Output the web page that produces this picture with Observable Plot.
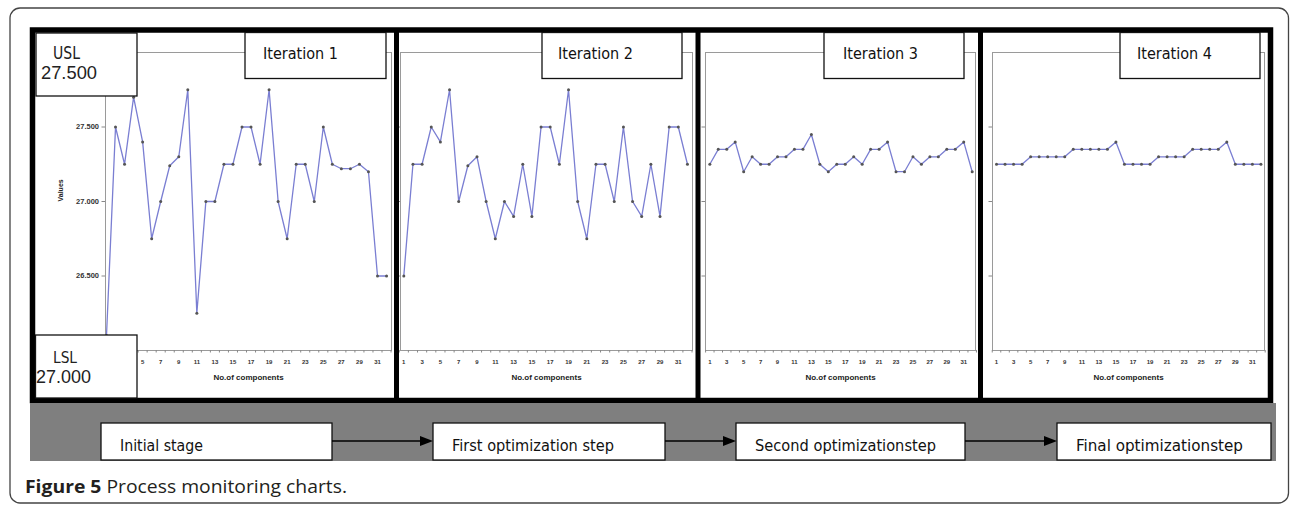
<!DOCTYPE html>
<html>
<head>
<meta charset="utf-8">
<script src="https://cdn.jsdelivr.net/npm/d3@7"></script>
<script src="https://cdn.jsdelivr.net/npm/@observablehq/plot@0.6"></script>
<style>
  body { margin: 0; background: #fff; }
  #root { position: relative; width: 1290px; height: 507px; overflow: hidden; background: #fff; }
  #root > svg, #root > figure { position: absolute; margin: 0; }
  .overlay { pointer-events: none; }
</style>
</head>
<body>
<div id="root"></div>
<script>
// ---------- data ----------
const components = [1,2,3,4,5,6,7,8,9,10,11,12,13,14,15,16,17,18,19,20,21,22,23,24,25,26,27,28,29,30,31,32];
const iteration1 = [26.1, 27.5, 27.25, 27.7, 27.4, 26.75, 27.0, 27.24, 27.3, 27.75, 26.25, 27.0, 27.0, 27.25, 27.25, 27.5,
                    27.5, 27.25, 27.75, 27.0, 26.75, 27.25, 27.25, 27.0, 27.5, 27.25, 27.22, 27.22, 27.25, 27.2, 26.5, 26.5];
const iteration2 = [26.5, 27.25, 27.25, 27.5, 27.4, 27.75, 27.0, 27.24, 27.3, 27.0, 26.75, 27.0, 26.9, 27.25, 26.9, 27.5,
                    27.5, 27.25, 27.75, 27.0, 26.75, 27.25, 27.25, 27.0, 27.5, 27.0, 26.9, 27.25, 26.9, 27.5, 27.5, 27.25];
const iteration3 = [27.25, 27.35, 27.35, 27.4, 27.2, 27.3, 27.25, 27.25, 27.3, 27.3, 27.35, 27.35, 27.45, 27.25, 27.2, 27.25,
                    27.25, 27.3, 27.25, 27.35, 27.35, 27.4, 27.2, 27.2, 27.3, 27.25, 27.3, 27.3, 27.35, 27.35, 27.4, 27.2];
const iteration4 = [27.25, 27.25, 27.25, 27.25, 27.3, 27.3, 27.3, 27.3, 27.3, 27.35, 27.35, 27.35, 27.35, 27.35, 27.4, 27.25,
                    27.25, 27.25, 27.25, 27.3, 27.3, 27.3, 27.3, 27.35, 27.35, 27.35, 27.35, 27.4, 27.25, 27.25, 27.25, 27.25];
const iterationTitles = ["Iteration 1", "Iteration 2", "Iteration 3", "Iteration 4"];
const stageLabels = ["Initial stage", "First optimization step", "Second optimizationstep", "Final optimizationstep"];
const xTickLabels = [1, 3, 5, 7, 9, 11, 13, 15, 17, 19, 21, 23, 25, 27, 29, 31];
const yTickValues = [26.5, 27.0, 27.5];
const yDomain = [26, 28];
const xAxisTitle = "No.of components";
const yAxisTitle = "Values";
const uslLabel = ["USL", "27.500"];
const lslLabel = ["LSL", "27.000"];
const captionBold = "Figure 5";
const captionText = " Process monitoring charts.";

// ---------- layout ----------
const series = [iteration1, iteration2, iteration3, iteration4];
const panels = [
  {left: 37,  width: 357, ml: 68, mr: 3, xd: [0.89, 32.55], yLabels: true},
  {left: 397, width: 297, ml: 3,  mr: 2, xd: [0.64, 32.55], yLabels: false},
  {left: 700, width: 280, ml: 5,  mr: 5, xd: [0.49, 32.39], yLabels: false},
  {left: 984, width: 284, ml: 8,  mr: 4, xd: [0.53, 32.42], yLabels: false}
];
const top0 = 40, H = 355, mt = 12, mb = 45;
const halfTicks = components.map(d => d - 0.5).concat([32.5]);
const root = document.getElementById("root");

panels.forEach((p, i) => {
  const data = components.map((c, j) => ({c, v: series[i][j]}));
  const marks = [
    Plot.frame({stroke: "#9a9a9a", strokeWidth: 1}),
    Plot.axisX({ticks: halfTicks, tickSize: 2.5, tickFormat: () => "", stroke: "#888", label: null}),
    Plot.axisX({ticks: xTickLabels, tickSize: 0, tickPadding: 9, fontSize: 6, fontWeight: "bold", fill: "#333", label: null}),
    Plot.axisY({ticks: yTickValues, tickSize: 3.5, tickPadding: 3, stroke: "#888",
                tickFormat: p.yLabels ? d3.format(".3f") : () => "", fontSize: 7.5, fontWeight: "bold", fill: "#333", label: null}),
    Plot.text([xAxisTitle], {frameAnchor: "bottom", dy: 29, fontSize: 8, fontWeight: "bold", fill: "#222"}),
    Plot.line(data, {x: "c", y: "v", stroke: "#7a7ed2", strokeWidth: 1.3}),
    Plot.dot(data, {x: "c", y: "v", r: 1.5, fill: "#555", stroke: "none"})
  ];
  if (p.yLabels) marks.push(Plot.text([yAxisTitle], {frameAnchor: "left", dx: -45, rotate: -90, fontSize: 7, fontWeight: "bold", fill: "#222"}));
  const svg = Plot.plot({
    width: p.width, height: H,
    marginLeft: p.ml, marginRight: p.mr, marginTop: mt, marginBottom: mb,
    x: {type: "linear", domain: p.xd},
    y: {domain: yDomain},
    style: {background: "transparent", overflow: "visible", fontFamily: "Liberation Sans, Arial, sans-serif"},
    marks
  });
  svg.style.left = p.left + "px";
  svg.style.top = top0 + "px";
  svg.style.position = "absolute";
  root.appendChild(svg);
});

// ---------- decorations ----------
const ov = d3.select(root).append("svg").attr("class", "overlay")
  .attr("width", 1290).attr("height", 507)
  .style("position", "absolute").style("left", "0px").style("top", "0px");

const narrow = "'Liberation Sans Narrow', 'DejaVu Sans Condensed', 'Liberation Sans', sans-serif";

// outer rounded figure border
ov.append("rect").attr("x", 10).attr("y", 8).attr("width", 1278.5).attr("height", 495)
  .attr("rx", 10).attr("fill", "none").attr("stroke", "#444").attr("stroke-width", 1.3);

// black frame
ov.append("rect").attr("x", 32.5).attr("y", 30).attr("width", 1238).attr("height", 370.5)
  .attr("fill", "none").attr("stroke", "#000").attr("stroke-width", 5.5);
[396.5, 698, 980.5].forEach(x => ov.append("line").attr("x1", x).attr("x2", x).attr("y1", 30).attr("y2", 400)
  .attr("stroke", "#000").attr("stroke-width", 5));

// USL / LSL boxes
ov.append("rect").attr("x", 36).attr("y", 33).attr("width", 101).attr("height", 63)
  .attr("fill", "#fff").attr("stroke", "#111").attr("stroke-width", 1.3);
ov.append("rect").attr("x", 35.5).attr("y", 335).attr("width", 101.5).attr("height", 63)
  .attr("fill", "#fff").attr("stroke", "#111").attr("stroke-width", 1.3);
ov.append("text").attr("x", 53).attr("y", 59).attr("font-family", narrow).attr("font-size", 17)
  .attr("textLength", 27).attr("lengthAdjust", "spacingAndGlyphs").attr("fill", "#222").text(uslLabel[0]);
ov.append("text").attr("x", 41).attr("y", 78.5).attr("font-family", "Liberation Sans, Arial, sans-serif").attr("font-size", 18)
  .attr("textLength", 56).attr("lengthAdjust", "spacingAndGlyphs").attr("fill", "#222").text(uslLabel[1]);
ov.append("text").attr("x", 53).attr("y", 363).attr("font-family", narrow).attr("font-size", 16)
  .attr("textLength", 24).attr("lengthAdjust", "spacingAndGlyphs").attr("fill", "#222").text(lslLabel[0]);
ov.append("text").attr("x", 36).attr("y", 383).attr("font-family", "Liberation Sans, Arial, sans-serif").attr("font-size", 18)
  .attr("textLength", 55).attr("lengthAdjust", "spacingAndGlyphs").attr("fill", "#222").text(lslLabel[1]);

// iteration title boxes
const iterBoxes = [
  {x: 245, w: 141, tx: 263},
  {x: 542, w: 140, tx: 558},
  {x: 824, w: 140, tx: 843},
  {x: 1120, w: 140, tx: 1137}
];
iterBoxes.forEach((b, i) => {
  ov.append("rect").attr("x", b.x).attr("y", 32.5).attr("width", b.w).attr("height", 46)
    .attr("fill", "#fff").attr("stroke", "#111").attr("stroke-width", 1.3);
  ov.append("text").attr("x", b.tx).attr("y", 58.5).attr("font-family", narrow).attr("font-size", 16)
    .attr("textLength", 75).attr("lengthAdjust", "spacingAndGlyphs").attr("fill", "#111").text(iterationTitles[i]);
});

// gray process strip
ov.append("rect").attr("x", 30).attr("y", 403).attr("width", 1246).attr("height", 58).attr("fill", "#7f7f7f");
const stageBoxes = [
  {x: 101, w: 231, tl: 83},
  {x: 433, w: 232, tl: 162},
  {x: 736, w: 229, tl: 181},
  {x: 1057, w: 214, tl: 167}
];
stageBoxes.forEach((b, i) => {
  ov.append("rect").attr("x", b.x).attr("y", 423).attr("width", b.w).attr("height", 37)
    .attr("fill", "#fff").attr("stroke", "#111").attr("stroke-width", 1.3);
  ov.append("text").attr("x", b.x + 19).attr("y", 451).attr("font-family", narrow).attr("font-size", 15)
    .attr("textLength", b.tl).attr("lengthAdjust", "spacingAndGlyphs").attr("fill", "#111").text(stageLabels[i]);
  if (i < stageBoxes.length - 1) {
    const x1 = b.x + b.w, x2 = stageBoxes[i + 1].x, y = 441;
    ov.append("line").attr("x1", x1).attr("x2", x2 - 12).attr("y1", y).attr("y2", y)
      .attr("stroke", "#000").attr("stroke-width", 1.5);
    ov.append("path").attr("d", `M${x2 - 13},${y - 5}L${x2},${y}L${x2 - 13},${y + 5}Z`).attr("fill", "#000");
  }
});

// caption
const cap = ov.append("text").attr("x", 25).attr("y", 493).attr("font-family", "'Open Sans', 'Noto Sans', sans-serif")
  .attr("font-size", 18).attr("fill", "#231f20")
  .attr("textLength", 322).attr("lengthAdjust", "spacingAndGlyphs");
cap.append("tspan").attr("font-weight", "bold").text(captionBold);
cap.append("tspan").attr("font-weight", "normal").text(captionText);
</script>
</body>
</html>
